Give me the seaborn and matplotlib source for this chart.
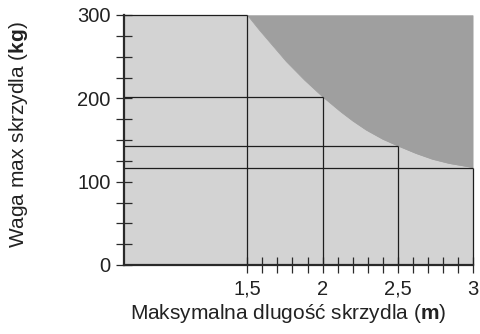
import matplotlib
matplotlib.use("Agg")
import matplotlib.pyplot as plt
import seaborn as sns
import pandas as pd
import numpy as np

# Data
drop_lengths = [1.5, 2.0, 2.5, 3.0]          # m
drop_weights = [300, 202, 143, 116]          # kg
curve_lengths = [1.5, 1.58, 1.67, 1.76, 1.88, 2.0, 2.12, 2.2, 2.29, 2.4,
                 2.5, 2.62, 2.73, 2.84, 3.0]
curve_weights = [300, 282, 263, 244, 222, 202, 184, 173, 162, 151,
                 143, 134, 127, 122, 117]
x_ticks = [1.5, 2.0, 2.5, 3.0]
x_tick_labels = ["1,5", "2", "2,5", "3"]
y_ticks = [0, 100, 200, 300]
y_tick_labels = ["0", "100", "200", "300"]

sns.set_style("ticks")
plt.rcParams['font.family'] = ['Liberation Sans', 'DejaVu Sans']
plt.rcParams['mathtext.fontset'] = 'custom'
plt.rcParams['mathtext.rm'] = 'Liberation Sans'
plt.rcParams['mathtext.bf'] = 'Liberation Sans:bold'

fig = plt.figure(figsize=(4.81, 3.34), dpi=100)
ax = fig.add_axes([124 / 481, 1 - 265 / 334, 349 / 481, 250 / 334])

x_min, x_max = 0.68, 3.0
ax.set_xlim(x_min, x_max)
ax.set_ylim(0, 300)
ax.set_facecolor("#d3d3d3")

curve = pd.DataFrame({"L": curve_lengths, "W": curve_weights})
ax.fill_between(curve["L"], curve["W"], 300, color="#9f9f9f", lw=0, zorder=1)
sns.lineplot(data=curve, x="L", y="W", ax=ax, color="#9f9f9f", lw=0.6, zorder=1)

line_col = "#1e1e1e"
ax.vlines(drop_lengths, 0, drop_weights, color=line_col, lw=0.9, zorder=3, clip_on=False)
ax.hlines(drop_weights, x_min, drop_lengths, color=line_col, lw=0.9, zorder=3, clip_on=False)

for s in ["top", "right"]:
    ax.spines[s].set_visible(False)
for s in ["left", "bottom"]:
    ax.spines[s].set_linewidth(1.6)
    ax.spines[s].set_color("#2a2a2a")
    ax.spines[s].set_zorder(4)

ax.set_xticks(x_ticks)
ax.set_xticklabels(x_tick_labels)
ax.set_xticks(np.round(np.arange(1.5, 3.01, 0.1), 2), minor=True)
ax.set_yticks(y_ticks)
ax.set_yticklabels(y_tick_labels)
ax.set_yticks(np.arange(0, 301, 25), minor=True)

ax.tick_params(axis="both", which="both", direction="inout", length=11.5,
               width=0.9, color="#2a2a2a", labelsize=14.5, labelcolor="#222222")
ax.tick_params(axis="x", which="major", pad=5)
ax.tick_params(axis="y", which="major", pad=4)

ax.set_xlabel("Maksymalna dlugość skrzydla ($\\mathbf{m}$)", fontsize=15,
              color="#222222")
ax.set_ylabel("Waga max skrzydla ($\\mathbf{kg}$)", fontsize=15,
              color="#222222")
ax.xaxis.set_label_coords((288 - 124) / 349, -0.148)
ax.xaxis.label.set_verticalalignment("top")
ax.yaxis.set_label_coords(-(124 - 19) / 349, 0.52)
ax.yaxis.label.set_verticalalignment("center")

fig.savefig("out.png", dpi=100)
